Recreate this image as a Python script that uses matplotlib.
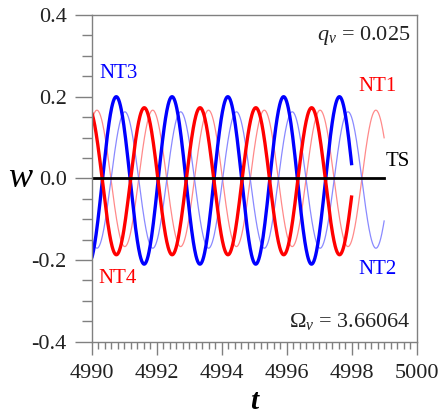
import numpy as np
import matplotlib
matplotlib.use('Agg')
import matplotlib.pyplot as plt
from matplotlib.ticker import MultipleLocator

plt.rcParams['font.family'] = ['Liberation Serif', 'DejaVu Serif']
plt.rcParams['mathtext.fontset'] = 'custom'
plt.rcParams['mathtext.rm'] = 'Liberation Serif'
plt.rcParams['mathtext.it'] = 'Liberation Serif:italic'
plt.rcParams['mathtext.bf'] = 'Liberation Serif:bold'

# 参数
q_v = 0.025
omega = 3.66064
names = ['NT1', 'NT2', 'NT3', 'NT4']
amp = [0.167, 0.167, 0.205, 0.18]
mean = [0.0, -0.004, -0.005, -0.007]
t_peak = [4990.16, 4991.02, 4990.755, 4989.9]
t_end = [4999.0, 4999.0, 4998.0, 4998.0]
colors = ['#ff8a8a', '#8a8aff', '#0000ff', '#ff0000']
widths = [0.9, 0.9, 2.4, 2.4]
ts_end = 4999.0

fig = plt.figure(figsize=(4.41, 4.18), dpi=100)
ax = fig.add_axes([0.208, 0.1825, 0.737, 0.7815])

# 先画细线再画粗线
for i in range(4):
    t = np.linspace(4990, t_end[i], 600)
    w = mean[i] + amp[i] * np.cos(omega * (t - t_peak[i]))
    ax.plot(t, w, color=colors[i], lw=widths[i], solid_capstyle='butt')

ax.plot([4990, ts_end], [0, 0], color='black', lw=2.0)

ax.set_xlim(4990, 5000)
ax.set_ylim(-0.4, 0.4)
ax.xaxis.set_major_locator(MultipleLocator(2))
ax.xaxis.set_minor_locator(MultipleLocator(0.2))
ax.yaxis.set_major_locator(MultipleLocator(0.2))
ax.yaxis.set_minor_locator(MultipleLocator(0.05))
ax.set_yticklabels(['%.1f' % v for v in ax.get_yticks()])
ax.tick_params(which='major', direction='out', length=9, width=1, color='#808080',
               labelsize=16, labelcolor='#222222', pad=7)
ax.tick_params(which='minor', direction='out', length=5, width=1, color='#808080')
ax.tick_params(axis='y', which='major', length=12, pad=6)
ax.tick_params(axis='y', which='minor', length=7)
for s in ax.spines.values():
    s.set_color('#808080')
    s.set_linewidth(1.0)

ax.set_xlabel('t', fontsize=21, style='italic', fontweight='bold', labelpad=4)
ax.set_ylabel('w', fontsize=26, style='italic', rotation=0, labelpad=8, va='center')

ax.text(4990.25, 0.245, 'NT3', color='#0000ff', fontsize=15)
ax.text(4998.2, 0.215, 'NT1', color='#ff0000', fontsize=15)
ax.text(4999.05, 0.03, 'TS', color='black', fontsize=15)
ax.text(4998.2, -0.235, 'NT2', color='#0000ff', fontsize=15)
ax.text(4990.2, -0.255, 'NT4', color='#ff0000', fontsize=15)
ax.text(4999.8, 0.35, r'$q_v$ = %s' % q_v, fontsize=16, ha='right', va='center', color='#222222')
ax.text(4999.8, -0.35, r'$\Omega_v$ = %s' % omega, fontsize=16, ha='right', va='center', color='#222222')

fig.savefig('out.png', dpi=100)
